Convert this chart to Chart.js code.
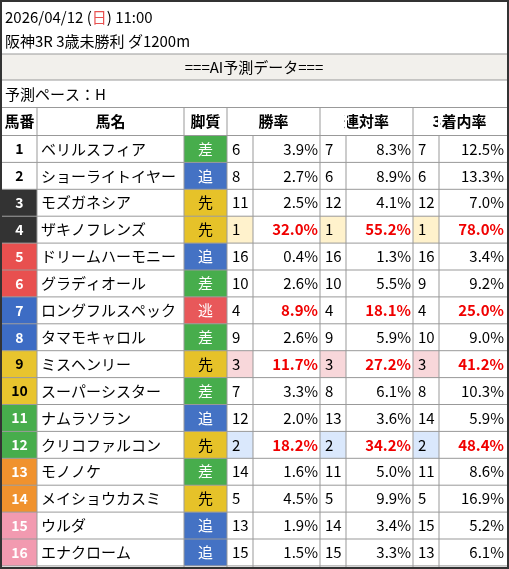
<!DOCTYPE html>
<html><head><meta charset="utf-8">
<script src="https://cdn.jsdelivr.net/npm/chart.js@4/dist/chart.umd.min.js"></script>
<style>html,body{margin:0;padding:0;background:#fff}canvas{display:block}</style>
</head><body><canvas id="c" width="509" height="569"></canvas>
<script>
const title1 = "2026/04/12 (日) 11:00";
const title2 = "阪神3R 3歳未勝利 ダ1200m";
const banner = "===AI予測データ===";
const pace = "予測ペース：H";
const headers = ["馬番","馬名","脚質","勝率","連対率","3着内率"];
const numbers = [1,2,3,4,5,6,7,8,9,10,11,12,13,14,15,16];
const names = ["ベリルスフィア","ショーライトイヤー","モズガネシア","ザキノフレンズ","ドリームハーモニー","グラディオール","ロングフルスペック","タマモキャロル","ミスヘンリー","スーパーシスター","ナムラソラン","クリコファルコン","モノノケ","メイショウカスミ","ウルダ","エナクローム"];
const styles = ["差","追","先","先","追","差","逃","差","先","差","追","先","差","先","追","追"];
const winRank = [6,8,11,1,16,10,4,9,3,7,12,2,14,5,13,15];
const winRate = [3.9,2.7,2.5,32.0,0.4,2.6,8.9,2.6,11.7,3.3,2.0,18.2,1.6,4.5,1.9,1.5];
const placeRank = [7,6,12,1,16,10,4,9,3,8,13,2,11,5,14,15];
const placeRate = [8.3,8.9,4.1,55.2,1.3,5.5,18.1,5.9,27.2,6.1,3.6,34.2,5.0,9.9,3.4,3.3];
const showRank = [7,6,12,1,16,9,4,10,3,8,14,2,11,5,15,13];
const showRate = [12.5,13.3,7.0,78.0,3.4,9.2,25.0,9.0,41.2,10.3,5.9,48.4,8.6,16.9,5.2,6.1];

const FONT = '"Noto Sans CJK JP","Noto Sans",sans-serif';
const gateBg = ["#ffffff","#ffffff","#333333","#333333","#e8504f","#e8504f","#3d6cc4","#3d6cc4","#e8c42e","#e8c42e","#47ad4c","#47ad4c","#f0922e","#f0922e","#f29ab0","#f29ab0"];
const gateFg = ["#000","#000","#fff","#fff","#fff","#fff","#fff","#fff","#000","#000","#fff","#fff","#fff","#fff","#fff","#fff"];
const styleBg = {"差":"#47ad4c","追":"#4472c4","先":"#e6c229","逃":"#e8585a"};
const styleFg = {"差":"#fff","追":"#fff","先":"#000","逃":"#fff"};
const rankBg = {1:"#fff2cc",2:"#dae8fc",3:"#f8d7da"};
const colX = [2,37,184,227,253,320,346,413,439,506];
const rowTop = 135.5, rowH = 26.9;

const tablePlugin = {
  id:'table',
  afterDraw(chart){
    const ctx = chart.ctx, X = v=>chart.scales.x.getPixelForValue(v), Y = v=>chart.scales.y.getPixelForValue(v);
    ctx.save();
    const line = (x1,y1,x2,y2,c,w)=>{ctx.strokeStyle=c||"#999";ctx.lineWidth=w||1;ctx.beginPath();ctx.moveTo(X(x1),Y(y1));ctx.lineTo(X(x2),Y(y2));ctx.stroke();};
    const rect = (x1,y1,x2,y2,c)=>{ctx.fillStyle=c;ctx.fillRect(X(x1),Y(y1),X(x2)-X(x1),Y(y2)-Y(y1));};
    const text = (s,x,y,align,color,bold,size)=>{ctx.font=(bold?"bold ":"")+(size||15)+"px "+FONT;ctx.fillStyle=color||"#000";ctx.textAlign=align||"left";ctx.textBaseline="middle";ctx.fillText(s,X(x),Y(y));};
    // title
    ctx.font = "15px "+FONT; ctx.textBaseline="middle"; ctx.textAlign="left";
    const parts = ["2026/04/12 (","日",") 11:00"]; let px = X(5);
    parts.forEach((p,i)=>{ctx.fillStyle=i==1?"#e8504f":"#000";ctx.fillText(p,px,Y(17));px+=ctx.measureText(p).width;});
    text(title2,5,41);
    rect(2,54,507,80,"#f2f0ec");
    line(2,54,507,54); line(2,80,507,80);
    text(banner,254,67,"center","#000",false,15);
    text(pace,5,94);
    line(2,107.5,507,107.5);
    // header
    const hc=[[2,37],[37,184],[184,227],[227,320],[320,413],[413,506]];
    hc.forEach((c,i)=>text(headers[i],(c[0]+c[1])/2,121,"center","#000",true,15));
    numbers.forEach((n,i)=>{
      const t=rowTop+i*rowH, b=t+rowH, m=(t+b)/2;
      rect(2,t,37,b,gateBg[i]); text(String(n),19.5,m,"center",gateFg[i],true,14);
      text(names[i],41,m,"left","#000",false,15);
      rect(184,t,227,b,styleBg[styles[i]]); text(styles[i],205.5,m,"center",styleFg[styles[i]],false,15);
      [[winRank,winRate,3],[placeRank,placeRate,5],[showRank,showRate,7]].forEach(([rk,rt,ci])=>{
        const r=rk[i]; if(rankBg[r]) rect(colX[ci],t,colX[ci+1],b,rankBg[r]);
        text(String(r),colX[ci]+5,m,"left","#000",false,15);
        const top=r<=4; text(rt[i].toFixed(1)+"%",colX[ci+2]-2,m,"right",top?"#f00000":"#000",top,15);
      });
    });
    for(let i=0;i<=16;i++) line(2,rowTop+i*rowH,507,rowTop+i*rowH);
    colX.forEach((x,k)=>{ if(k==0||k==9) return; const isSub=(k==4||k==6||k==8); line(x,107.5,x,569,"#999");});
    // remove header subdividers
    [[4,253],[6,346],[8,439]].forEach(([k,x])=>{ctx.fillStyle="#fff";ctx.fillRect(X(x)-1,Y(108),2,Y(135)-Y(108));});
    ctx.strokeStyle="#333";ctx.lineWidth=2;ctx.strokeRect(X(1),Y(1),X(508)-X(1),Y(568)-Y(1));
    ctx.restore();
  }
};
new Chart(document.getElementById('c'),{
  type:'scatter',
  data:{datasets:[{data:[]}]},
  options:{responsive:false,animation:false,layout:{padding:0},
    plugins:{legend:{display:false},tooltip:{enabled:false}},
    scales:{x:{type:'linear',min:0,max:509,display:false},y:{type:'linear',min:0,max:569,reverse:true,display:false}}},
  plugins:[tablePlugin]
});
</script></body></html>
